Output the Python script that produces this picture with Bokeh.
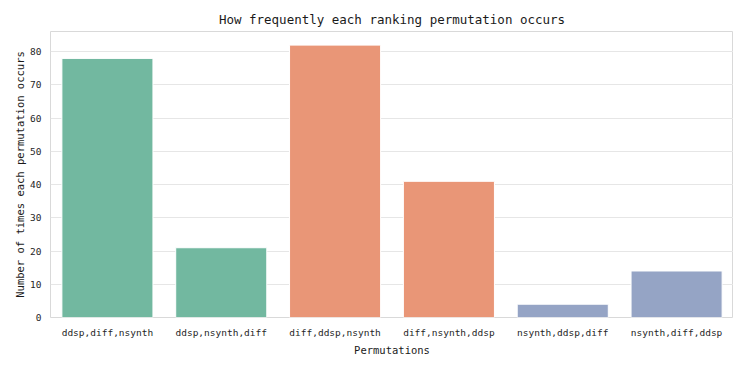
from bokeh.plotting import figure
from bokeh.models import ColumnDataSource, FixedTicker, Range1d
from bokeh.embed import file_html
from bokeh.resources import INLINE

permutations = ["ddsp,diff,nsynth", "ddsp,nsynth,diff", "diff,ddsp,nsynth",
                "diff,nsynth,ddsp", "nsynth,ddsp,diff", "nsynth,diff,ddsp"]
counts = [78, 21, 82, 41, 4, 14]
bar_colors = ["#72b8a0", "#72b8a0", "#e99677", "#e99677", "#95a4c5", "#95a4c5"]
y_ticks = [0, 10, 20, 30, 40, 50, 60, 70, 80]

FONT = "DejaVu Sans Mono"

src = ColumnDataSource(dict(x=permutations, top=counts, color=bar_colors))

p = figure(x_range=permutations, y_range=Range1d(0, 86.1), width=733, height=358,
           output_backend="svg", toolbar_location=None,
           title="How frequently each ranking permutation occurs",
           min_border_left=50, min_border_right=0, min_border_top=31, min_border_bottom=0)

p.vbar(x="x", top="top", width=0.8, source=src, fill_color="color",
       line_color="white", line_width=1)

p.title.align = "center"
p.title.text_font = FONT
p.title.text_font_size = "12.5px"
p.title.text_font_style = "normal"
p.title.text_color = "#1a1a1a"

p.xaxis.axis_label = "Permutations"
p.yaxis.axis_label = "Number of times each permutation occurs"
for ax in (p.xaxis, p.yaxis):
    ax.axis_label_text_font = FONT
    ax.axis_label_text_font_size = "10.5px"
    ax.axis_label_text_font_style = "normal"
    ax.axis_label_text_color = "#1a1a1a"
    ax.major_label_text_font = FONT
    ax.major_label_text_font_size = "9.5px"
    ax.major_label_text_color = "#262626"
    ax.axis_line_color = None
    ax.major_tick_line_color = None
    ax.minor_tick_line_color = None
    ax.major_tick_out = 0
    ax.major_tick_in = 0
    ax.minor_tick_out = 0
    ax.minor_tick_in = 0

p.xaxis.major_label_standoff = 9
p.xaxis.axis_label_standoff = 3
p.yaxis.major_label_standoff = 9
p.yaxis.axis_label_standoff = 1

p.yaxis.ticker = FixedTicker(ticks=y_ticks)
p.xgrid.grid_line_color = None
p.ygrid.grid_line_color = "#e6e6e6"
p.ygrid.grid_line_width = 1
p.outline_line_color = "#d9d9d9"
p.outline_line_width = 1
p.x_range.range_padding = 0

open("out.html", "w").write(file_html(p, INLINE))
